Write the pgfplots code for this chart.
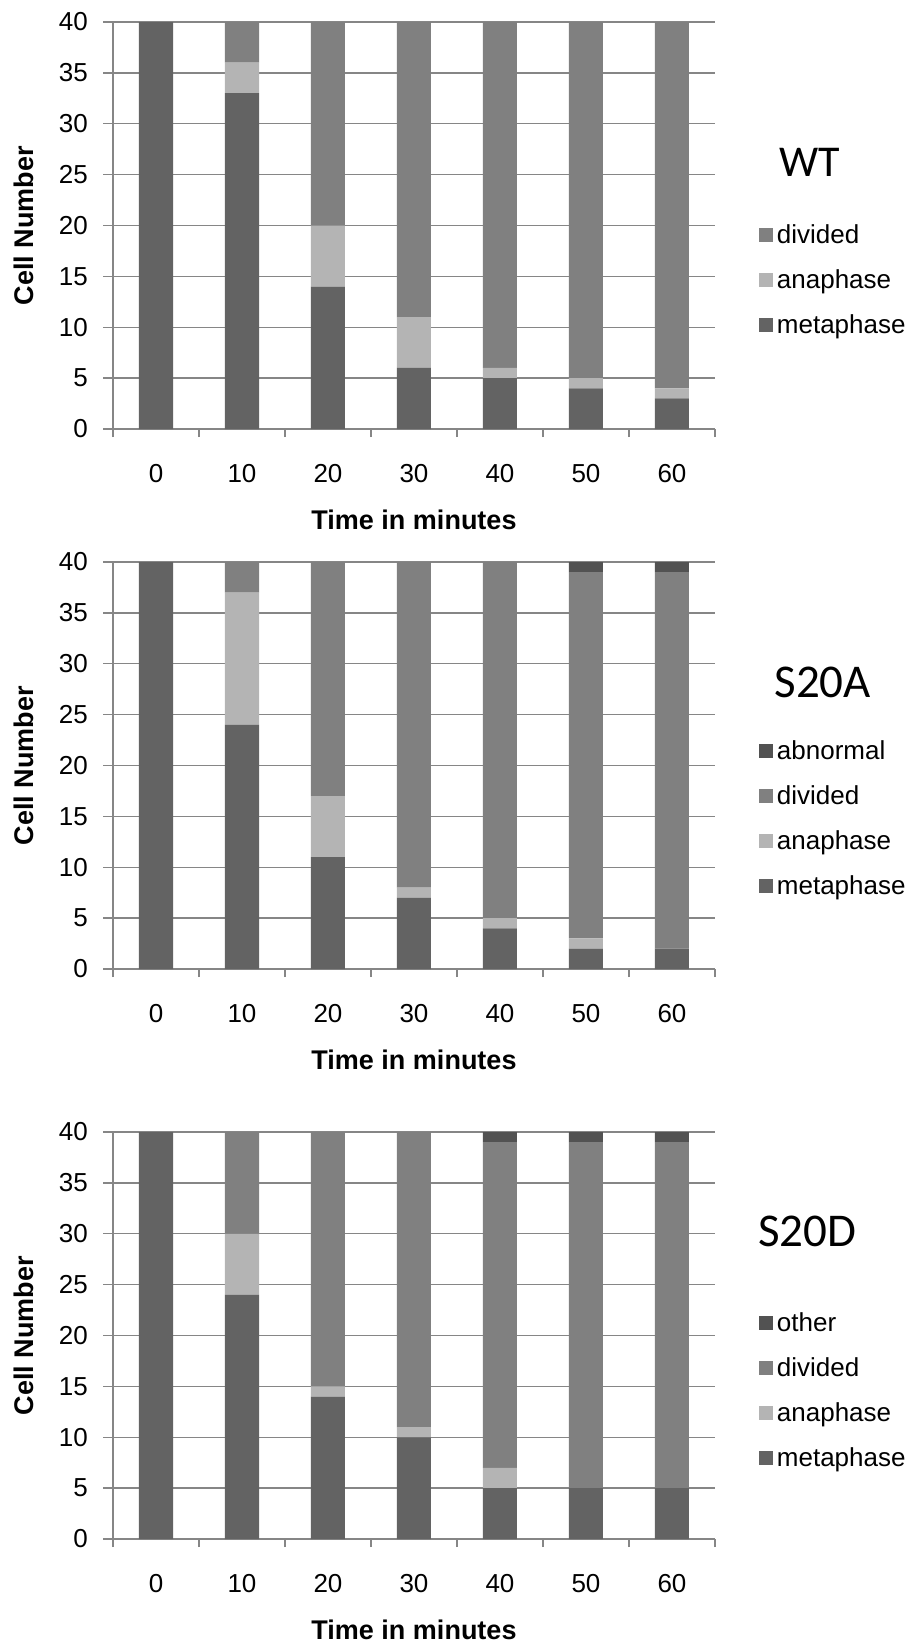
\documentclass[border=0pt]{standalone}
\usepackage{fontspec}
\setmainfont{Liberation Sans}
\newfontfamily\titlefont{Carlito}
\usepackage{pgfplots}
\pgfplotsset{compat=1.18}

\definecolor{meta}{RGB}{99,99,99}
\definecolor{ana}{RGB}{180,180,180}
\definecolor{divi}{RGB}{128,128,128}
\definecolor{abn}{RGB}{82,82,82}
\definecolor{gridc}{RGB}{134,134,134}

\pgfplotsset{
 panel/.style={
  scale only axis, width=602pt, height=407pt,
  anchor=south west,
  ybar stacked, bar width=34pt,
  xmin=-0.5, xmax=6.5, ymin=0, ymax=40,
  xtick={0,...,6}, xticklabels={0,10,20,30,40,50,60},
  minor xtick={-0.5,0.5,...,6.5},
  ytick={0,5,...,40},
  axis x line=bottom, axis y line=left,
  axis line style={gridc, line width=1.3pt, -},
  ymajorgrids, grid style={gridc, line width=1.3pt},
  tick align=outside,
  major tick length=10pt, minor tick length=8pt,
  major x tick style={draw=none},
  minor x tick style={gridc, line width=1.3pt},
  major y tick style={gridc, line width=1.3pt},
  tick label style={font=\fontsize{26}{30}\selectfont},
  /pgf/number format/assume math mode=true,
  xticklabel style={anchor=north, inner sep=0pt, yshift=-25pt},
  yticklabel style={anchor=east, inner sep=0pt, xshift=-15pt},
  ylabel={Cell Number},
  ylabel style={font=\bfseries\fontsize{27}{31}\selectfont, at={(axis description cs:-0.148,0.5)}, anchor=center},
  xlabel={Time in minutes},
  xlabel style={font=\bfseries\fontsize{27}{31}\selectfont, at={(axis description cs:0.5,-0.2236)}, anchor=center},
  clip=false,
  reverse legend,
  legend image code/.code={\fill[#1] (0pt,1.5pt) rectangle (14pt,15pt);},
  legend style={draw=none, fill=none, inner sep=0pt, outer sep=0pt, anchor=north west,
    row sep=20pt, column sep=4pt,
    nodes={inner sep=0pt, text height=19pt, text depth=6pt, anchor=base west, font=\fontsize{26}{30}\selectfont}},
 }
}

\begin{document}
\begin{tikzpicture}
\useasboundingbox (0,0) rectangle (912pt,-1643pt);

% WT
\begin{axis}[panel, at={(113pt,-429pt)},
  legend style={at={(axis description cs:1.073,0.5037)}}]
\addplot[fill=meta, draw=none] coordinates {(0,40) (1,33) (2,14) (3,6) (4,5) (5,4) (6,3)};
\addplot[fill=ana, draw=none] coordinates {(0,0) (1,3) (2,6) (3,5) (4,1) (5,1) (6,1)};
\addplot[fill=divi, draw=none] coordinates {(0,0) (1,4) (2,20) (3,29) (4,34) (5,35) (6,36)};
\legend{metaphase, anaphase, divided}
\node[font=\titlefont\fontsize{44}{48}\selectfont] at (axis description cs:1.158,0.654) {WT};
\end{axis}

% S20A
\begin{axis}[panel, at={(113pt,-969pt)},
  legend style={at={(axis description cs:1.073,0.5624)}}]
\addplot[fill=meta, draw=none] coordinates {(0,40) (1,24) (2,11) (3,7) (4,4) (5,2) (6,2)};
\addplot[fill=ana, draw=none] coordinates {(0,0) (1,13) (2,6) (3,1) (4,1) (5,1) (6,0)};
\addplot[fill=divi, draw=none] coordinates {(0,0) (1,3) (2,23) (3,32) (4,35) (5,36) (6,37)};
\addplot[fill=abn, draw=none] coordinates {(0,0) (1,0) (2,0) (3,0) (4,0) (5,1) (6,1)};
\legend{metaphase, anaphase, divided, abnormal}
\node[font=\titlefont\fontsize{47}{51}\selectfont] at (axis description cs:1.179,0.705) {S20A};
\end{axis}

% S20D
\begin{axis}[panel, at={(113pt,-1539pt)},
  legend style={at={(axis description cs:1.073,0.557)}}]
\addplot[fill=meta, draw=none] coordinates {(0,40) (1,24) (2,14) (3,10) (4,5) (5,5) (6,5)};
\addplot[fill=ana, draw=none] coordinates {(0,0) (1,6) (2,1) (3,1) (4,2) (5,0) (6,0)};
\addplot[fill=divi, draw=none] coordinates {(0,0) (1,10) (2,25) (3,29) (4,32) (5,34) (6,34)};
\addplot[fill=abn, draw=none] coordinates {(0,0) (1,0) (2,0) (3,0) (4,1) (5,1) (6,1)};
\legend{metaphase, anaphase, divided, other}
\node[font=\titlefont\fontsize{47}{51}\selectfont] at (axis description cs:1.153,0.757) {S20D};
\end{axis}
\end{tikzpicture}
\end{document}
